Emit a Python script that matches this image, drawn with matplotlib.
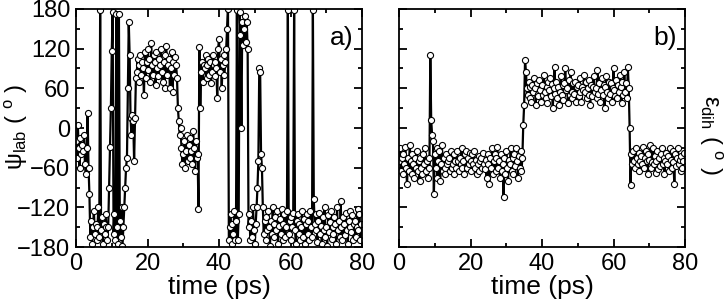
import numpy as np
import matplotlib
matplotlib.use('Agg')
import matplotlib.pyplot as plt
from matplotlib.ticker import MultipleLocator

plt.rcParams['font.family'] = ['Liberation Sans', 'DejaVu Sans']
plt.rcParams['mathtext.fontset'] = 'custom'
plt.rcParams['mathtext.rm'] = 'Liberation Sans'
plt.rcParams['mathtext.it'] = 'Liberation Sans:italic'

# sampling step of both series (ps)
dt = 0.25

# psi_lab (deg), 4 samples per ps
psi_lab = [
    -20, -45, 5, -30, -60, -15, -40, -25, -35, -10, -55, -70, -30, 22, -60, -100,
    -165, -140, -175, -150, -125, -160, -145, -170, -150, -120, -165, 178, -155, -135, -175, -145,
    -160, -130, -150, -170, -150, -90, -28, 30, 117, 175, -160, -130, -170, 172, -150, -175,
    173, -140, -165, -120, -178, -150, -120, -90, -60, -45, 60, 160, 110, 15, -10, 20,
    10, -50, 15, 75, 85, 105, 70, 95, 110, 80, 100, 90, 50, 115, 75, 100,
    120, 88, 105, 70, 128, 95, 80, 110, 100, 65, 115, 90, 78, 105, 95, 120,
    85, 70, 100, 60, 110, 124, 80, 95, 105, 60, 90, 115, 55, 100, 80, 108,
    95, 75, 30, 10, -10, 0, -30, -55, -40, -20, -60, -35, -10, -50, -25, -45,
    -15, -35, -55, -5, -30, -65, -20, -45, -40, -122, 122, 30, 85, 100, 70, 95,
    90, 110, 75, 95, 105, 80, 100, 68, 85, 110, 95, 78, 100, 90, 45, 120,
    135, 85, 105, 60, 95, 110, 80, 100, 120, 150, 180, -170, -150, -130, -175, -145,
    -160, -125, -170, -140, 178, -170, -130, 175, 140, 0, 160, 125, 150, 170, 130, 160,
    120, -150, -130, -170, -140, -165, -120, -155, -175, -145, -120, -90, -50, 90, 85, -40,
    -60, -120, -160, -140, -170, -135, -155, -125, -150, -178, -140, -160, -120, -145, -165, -135,
    -155, -125, -175, -148, -138, -160, -122, -170, -145, -130, -165, -150, -125, 178, -160, -140,
    -170, -135, -150, -128, 178, -155, -175, -140, -130, -160, -145, -170, -150, -125, -165, -138,
    -175, -145, -130, -160, -140, -170, -125, -150, -165, 178, -108, -145, -155, -130, -172, -140,
    -128, -160, -148, -176, -135, -155, -120, -165, -150, -178, -132, -158, -142, -125, -168, -150,
    -160, -135, -145, -175, -120, -155, -140, -165, -110, -150, -170, -135, -145, -162, -128, -155,
    -175, -140, -150, -125, -158, -132, -170, -145, -140, -165, -150, -122, -155, -130, -170, -145,
]

# eps_dih (deg), 4 samples per ps
eps_dih = [
    -50, -30, -65, -45, -70, -40, -55, -28, -60, -85, -45, -65, -25, -50, -70, -40,
    -55, -75, -45, -60, -35, -65, -50, -80, -45, -60, -70, -40, -55, -30, -65, -50,
    -75, -45, -60, 110, 12, -10, -20, -100, -40, -60, -30, -75, -50, -35, -80, -55,
    -25, -65, -45, -60, -70, -40, -55, -50, -45, -65, -35, -60, -55, -40, -70, -50,
    -60, -35, -50, -65, -45, -55, -30, -60, -50, -70, -40, -35, -60, -45, -55, -38,
    -50, -65, -40, -55, -35, -60, -48, -70, -55, -42, -65, -50, -45, -60, -38, -55,
    -62, -48, -75, -40, -55, -85, -45, -60, -30, -70, -50, -40, -65, -45, -28, -60,
    -50, -75, -40, -65, -55, -104, -45, -70, -35, -60, -80, -48, -55, -30, -65, -45,
    -70, -40, -58, -30, -50, -75, -42, -60, -35, -65, -45, 5, 35, 103, 85, 60,
    50, 70, 45, 62, 40, 65, 55, 75, 60, 35, 68, 52, 48, 72, 58, 40,
    65, 50, 80, 55, 45, 62, 38, 70, 58, 75, 48, 66, 30, 60, 92, 52,
    70, 45, 62, 35, 55, 78, 50, 65, 42, 68, 90, 58, 60, 38, 72, 50,
    85, 55, 45, 68, 52, 70, 40, 62, 65, 48, 75, 55, 40, 62, 58, 80,
    55, 70, 45, 60, 72, 50, 35, 65, 48, 62, 78, 55, 60, 45, 88, 52,
    68, 40, 58, 75, 50, 65, 30, 62, 78, 55, 45, 70, 52, 68, 40, 60,
    90, 58, 48, 72, 45, 65, 55, 80, 62, 38, 70, 50, 85, 55, 68, 45,
    92, 60, 0, -86, -40, -55, -35, -50, -60, -30, -45, -55, -38, -65, -50, -42,
    -55, -28, -60, -45, -35, -50, -70, -40, -48, -25, -60, -52, -30, -55, -42, -68,
    -50, -35, -62, -45, -58, -40, -30, -55, -45, -70, -50, -38, -55, -42, -65, -30,
    -48, -60, -35, -52, -85, -40, -58, -45, -30, -55, -48, -65, -42, -60, -50, -38,
]

panels = ['a)', 'b)']

fig = plt.figure(figsize=(7.26, 3.07), dpi=100)
ax_a = fig.add_axes([0.1047, 0.1954, 0.394, 0.7753])
ax_b = fig.add_axes([0.5496, 0.1954, 0.394, 0.7753])

for ax, series, tag in zip([ax_a, ax_b], [psi_lab, eps_dih], panels):
    t = np.arange(len(series)) * dt
    ax.plot(t, series, '-o', color='black', lw=1.6, ms=4.4, mfc='white',
            mec='black', mew=0.8)
    ax.set_xlim(0, 80)
    ax.set_ylim(-180, 180)
    ax.xaxis.set_major_locator(MultipleLocator(20))
    ax.xaxis.set_minor_locator(MultipleLocator(10))
    ax.yaxis.set_major_locator(MultipleLocator(60))
    ax.yaxis.set_minor_locator(MultipleLocator(30))
    ax.tick_params(which='both', direction='in', top=True, right=True,
                   width=1.3, labelsize=17, pad=4)
    ax.tick_params(which='major', length=6)
    ax.tick_params(which='minor', length=3)
    for s in ax.spines.values():
        s.set_linewidth(1.3)
    ax.set_xlabel('time (ps)', fontsize=19, labelpad=0)
    ax.text(0.97, 0.93, tag, transform=ax.transAxes, ha='right', va='top',
            fontsize=19)

ax_b.tick_params(labelleft=False)

# axis titles placed by hand, as in the reference
fig.text(0.022, 0.586, r'$\mathregular{\psi_{lab}}$ ( $^{\mathregular{o}}$ )',
         rotation=90, ha='center', va='center', fontsize=17)
fig.text(0.979, 0.56, r'$\mathregular{\varepsilon_{dih}}$ ( $^{\mathregular{o}}$ )',
         rotation=-90, ha='center', va='center', fontsize=17)

fig.savefig('out.png', dpi=100)
